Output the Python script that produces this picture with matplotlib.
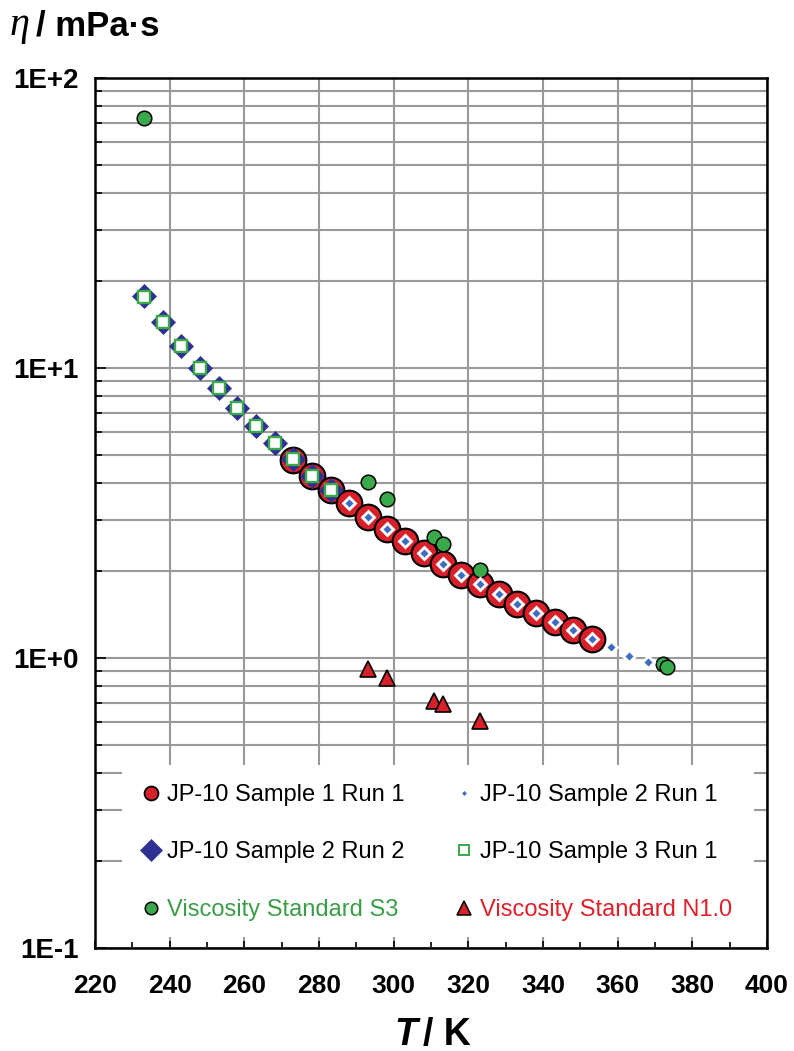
import matplotlib
matplotlib.use('Agg')
import matplotlib.pyplot as plt
import numpy as np
from matplotlib.lines import Line2D
from matplotlib.patches import Rectangle
from matplotlib.ticker import FuncFormatter, MultipleLocator, LogLocator

plt.rcParams['font.family'] = ['Liberation Sans', 'DejaVu Sans']

# JP-10 Sample 1 Run 1
t_s1r1 = [273.15, 278.15, 283.15, 288.15, 293.15, 298.15, 303.15, 308.15, 313.15,
          318.15, 323.15, 328.15, 333.15, 338.15, 343.15, 348.15, 353.15]
eta_s1r1 = [4.82, 4.24, 3.80, 3.42, 3.06, 2.79, 2.53, 2.30, 2.11,
            1.93, 1.80, 1.66, 1.54, 1.43, 1.33, 1.25, 1.16]

# JP-10 Sample 2 Run 1
t_s2r1 = [288.15, 293.15, 298.15, 303.15, 308.15, 313.15, 318.15, 323.15, 328.15,
          333.15, 338.15, 343.15, 348.15, 353.15, 358.15, 363.15, 368.15]
eta_s2r1 = [3.42, 3.06, 2.79, 2.53, 2.30, 2.11, 1.93, 1.80, 1.66,
            1.54, 1.43, 1.33, 1.25, 1.16, 1.09, 1.02, 0.97]

# JP-10 Sample 2 Run 2
t_s2r2 = [233.15, 238.15, 243.15, 248.15, 253.15, 258.15, 263.15, 268.15, 273.15, 278.15, 283.15]
eta_s2r2 = [17.7, 14.4, 11.9, 10.0, 8.53, 7.28, 6.31, 5.51, 4.85, 4.24, 3.80]

# JP-10 Sample 3 Run 1
t_s3r1 = [233.15, 238.15, 243.15, 248.15, 253.15, 258.15, 263.15, 268.15, 273.15, 278.15, 283.15]
eta_s3r1 = [17.6, 14.4, 11.9, 10.0, 8.50, 7.30, 6.30, 5.50, 4.85, 4.24, 3.80]

# viscosity standards
t_std_s3 = [233.15, 293.15, 298.15, 310.93, 313.15, 323.15, 372.04, 373.15]
eta_std_s3 = [72.8, 4.04, 3.53, 2.61, 2.47, 2.01, 0.953, 0.931]

t_std_n1 = [293.15, 298.15, 310.93, 313.15, 323.15]
eta_std_n1 = [0.92, 0.853, 0.711, 0.694, 0.607]

labels = ['JP-10 Sample 1 Run 1', 'JP-10 Sample 2 Run 2', 'Viscosity Standard S3',
          'JP-10 Sample 2 Run 1', 'JP-10 Sample 3 Run 1', 'Viscosity Standard N1.0']

red = '#d7202a'
navy = '#2e3192'
blue = '#3d6cc4'
green = '#39a949'

fig = plt.figure(figsize=(7.94, 10.51), dpi=100)
ax = fig.add_axes([95 / 794, 103 / 1051, 672 / 794, 870 / 1051])

ax.plot(t_s1r1, eta_s1r1, 'o', ms=18.5, mfc=red, mec='black', mew=1.5, zorder=3)
ax.plot(t_s2r2, eta_s2r2, 'D', ms=12.5, mfc=navy, mec=navy, mew=0.5, zorder=4)
ax.plot(t_s3r1, eta_s3r1, 's', ms=8.5, mfc='white', mec=green, mew=1.7, zorder=5)
ax.plot(t_s2r1, eta_s2r1, 'D', ms=6, mfc=blue, mec='white', mew=2.0, zorder=6)
ax.plot(t_std_s3, eta_std_s3, 'o', ms=10.5, mfc=green, mec='black', mew=1.1, zorder=3)
ax.plot(t_std_n1, eta_std_n1, '^', ms=12, mfc=red, mec='black', mew=1.2, zorder=3)

ax.set_yscale('log')
ax.set_xlim(220, 400)
ax.set_ylim(0.1, 100)

ax.xaxis.set_major_locator(MultipleLocator(20))
ax.xaxis.set_minor_locator(MultipleLocator(10))
ax.yaxis.set_major_locator(LogLocator(base=10))
ax.yaxis.set_minor_locator(LogLocator(base=10, subs=np.arange(2, 10)))
ax.yaxis.set_major_formatter(FuncFormatter(lambda v, p: f"1E{int(round(np.log10(v))):+d}"))
ax.yaxis.set_minor_formatter(FuncFormatter(lambda v, p: ''))

ax.set_axisbelow(True)
ax.grid(True, axis='x', which='major', color='#999999', lw=1.5)
ax.grid(True, axis='y', which='both', color='#999999', lw=1.5)

ax.tick_params(axis='both', which='both', direction='in', color='black')
ax.tick_params(axis='x', which='major', length=5, width=1.2, pad=19, labelsize=19)
ax.tick_params(axis='x', which='minor', length=4, width=1.2)
ax.tick_params(axis='y', which='major', length=8, width=1.2, pad=12, labelsize=20)
ax.tick_params(axis='y', which='minor', length=5, width=1.2)
for lab in ax.get_xticklabels() + ax.get_yticklabels():
    lab.set_fontweight('bold')
for sp in ax.spines.values():
    sp.set_linewidth(1.8)
    sp.set_zorder(10)

# white area behind the legend
ax.add_patch(Rectangle((27 / 672, 11 / 870), 632 / 672, 172 / 870, transform=ax.transAxes,
                       facecolor='white', edgecolor='none', zorder=1.5))

handles = [
    Line2D([], [], ls='none', marker='o', ms=10, mfc=red, mec='black', mew=1.3),
    Line2D([], [], ls='none', marker='D', ms=11, mfc=navy, mec=navy, mew=0.5),
    Line2D([], [], ls='none', marker='o', ms=9, mfc=green, mec='black', mew=1.1),
    Line2D([], [], ls='none', marker='D', ms=3.5, mfc=blue, mec='white', mew=1.0),
    Line2D([], [], ls='none', marker='s', ms=7, mfc='white', mec=green, mew=1.4),
    Line2D([], [], ls='none', marker='^', ms=10, mfc=red, mec='black', mew=1.1),
]
leg = ax.legend(handles, labels, ncol=2, frameon=False, loc='upper left',
                bbox_to_anchor=(48 / 672, 164 / 870), borderpad=0, borderaxespad=0,
                fontsize=17, labelspacing=1.5, handlelength=0.7, handletextpad=0.3,
                columnspacing=2.2)
leg.set_zorder(11)
leg.get_texts()[2].set_color('#3a9e48')
leg.get_texts()[5].set_color('#e0202b')

# axis titles
fig.text(10 / 794, 1 - 35 / 1051, '\u03b7', family=['Liberation Serif', 'DejaVu Serif'],
         style='italic', fontsize=29, va='baseline', ha='left')
fig.text(36 / 794, 1 - 35 / 1051, '/ mPa\u00b7s', fontsize=25, fontweight='bold',
         va='baseline', ha='left')
fig.text(417 / 794, 1 - 1045 / 1051, 'T', fontsize=27, fontweight='bold', style='italic',
         va='baseline', ha='right')
fig.text(423 / 794, 1 - 1045 / 1051, '/ K', fontsize=27, fontweight='bold',
         va='baseline', ha='left')

plt.savefig('out.png', dpi=100)
